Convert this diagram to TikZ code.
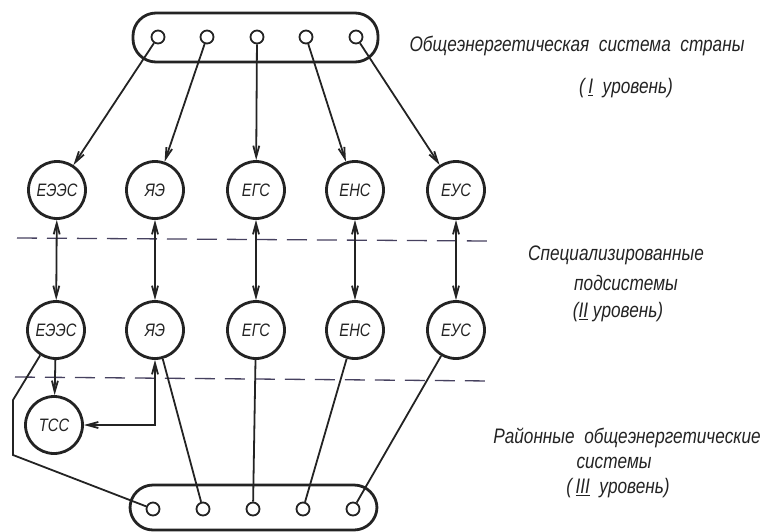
\documentclass[tikz,border=0pt]{standalone}
\usepackage{fontspec}
\setmainfont{Liberation Sans}[FakeStretch=0.82]
\usetikzlibrary{arrows.meta}
\definecolor{ink}{RGB}{35,35,35}
\definecolor{dashcol}{RGB}{70,65,95}
\begin{document}
\begin{tikzpicture}[x=1pt,y=-1pt,
  every node/.style={text=ink},
  big/.style={draw=ink,circle,line width=2.8pt,minimum size=57pt,inner sep=0pt,font=\fontsize{18}{18}\selectfont\itshape},
  small/.style={draw=ink,circle,line width=1.8pt,minimum size=13pt,inner sep=0pt},
  bus/.style={draw=ink,rectangle,line width=2.8pt,rounded corners=23pt,inner sep=0pt},
  conn/.style={draw=ink,line width=1.8pt},
  arr/.style={conn,-{Straight Barb[length=11pt,width=6pt]}},
  darr/.style={conn,{Straight Barb[length=11pt,width=6pt]}-{Straight Barb[length=11pt,width=6pt]}},
  sep/.style={draw=dashcol,line width=1.3pt,dash pattern=on 20pt off 10pt},
  lab/.style={font=\fontsize{21}{21}\selectfont\itshape,inner sep=0pt}
]
\useasboundingbox (0,0) rectangle (764,531);
% top bus
\node[bus,minimum width=245pt,minimum height=49pt] (top) at (255.5,37.5) {};
\foreach \i/\x in {1/158,2/207,3/257,4/306,5/356}
  \node[small] (t\i) at (\x,37) {};
% bottom bus
\node[bus,minimum width=247pt,minimum height=45pt] (bot) at (253.5,507.5) {};
\foreach \i/\x in {1/153,2/203,3/253,4/303,5/353}
  \node[small] (u\i) at (\x,509) {};
% level circles
\node[big] (a1) at (57,190) {ЕЭЭС};
\node[big] (a2) at (155,190) {ЯЭ};
\node[big] (a3) at (256,190) {ЕГС};
\node[big] (a4) at (355,190) {ЕНС};
\node[big] (a5) at (456,190) {ЕУС};
\node[big] (b1) at (56,330) {ЕЭЭС};
\node[big] (b2) at (155,330) {ЯЭ};
\node[big] (b3) at (256,330) {ЕГС};
\node[big] (b4) at (355,330) {ЕНС};
\node[big] (b5) at (456,330) {ЕУС};
\node[big] (c) at (54,425) {ТСС};
% dashed separators
\coordinate (d1a) at (17,238); \coordinate (d1b) at (488,241);
\coordinate (d2a) at (15,377); \coordinate (d2b) at (492,381);
\draw[sep] (d1a) -- (d1b);
\draw[sep] (d2a) -- (d2b);
% connectors
\foreach \i in {1,...,5} {
  \draw[arr] (t\i) -- (a\i);
  \draw[darr] (a\i) -- (b\i);
}
\draw[arr] (b1) -- (c);
\draw[darr] (b2) |- (c);
\coordinate (k1) at (13,400);
\coordinate (k2) at (13,455);
\draw[conn] (b1.238) -- (k1) -- (k2) -- (u1);
\draw[conn] (b2) -- (u2);
\draw[conn] (b3) -- (u3);
\draw[conn] (b4) -- (u4);
\draw[conn] (b5) -- (u5);
% labels
\node[lab] (l1) at (577,46) {Общеэнергетическая\ \ система\ \ страны};
\node[lab] (l2) at (626,88) {(\,\underline{I}\ \ уровень)};
\node[lab] (l3) at (616,255) {Специализированные};
\node[lab] (l4) at (626,283) {подсистемы};
\node[lab] (l5) at (618,312) {(\underline{II}\ уровень)};
\node[lab] (l6) at (627,438) {Районные\ \ общеэнергетические};
\node[lab] (l7) at (614,463) {системы};
\node[lab] (l8) at (618,488) {(\,\underline{III}\ \ уровень)};
\end{tikzpicture}
\end{document}
